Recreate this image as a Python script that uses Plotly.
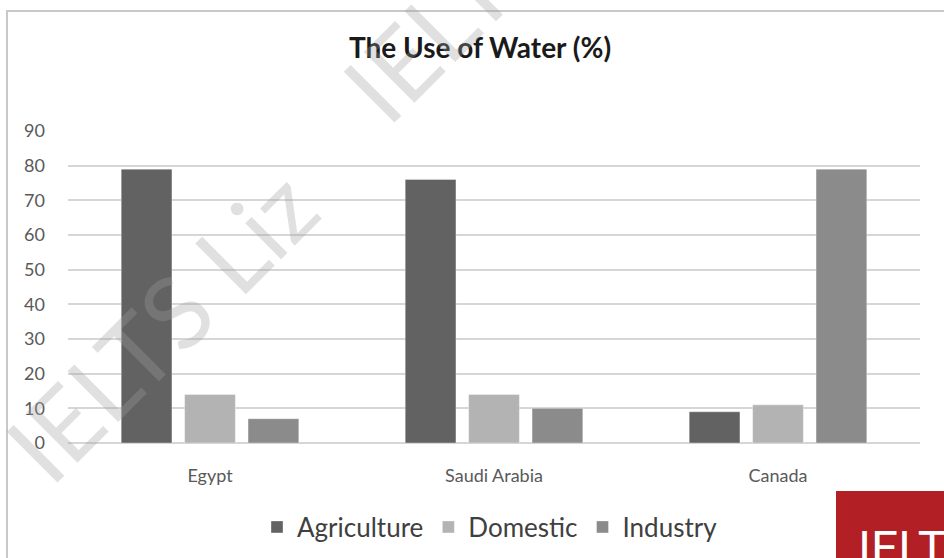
import plotly.graph_objects as go

countries = ["Egypt", "Saudi Arabia", "Canada"]
agriculture = [79, 76, 9]
domestic = [14, 14, 11]
industry = [7, 10, 79]
series_names = ["Agriculture", "Domestic", "Industry"]
series_colors = ["#626262", "#b3b3b3", "#8b8b8b"]
y_ticks = [0, 10, 20, 30, 40, 50, 60, 70, 80, 90]

FONT = "Lato, 'Open Sans', sans-serif"

fig = go.Figure()
for name, vals, col in zip(series_names, [agriculture, domestic, industry], series_colors):
    fig.add_trace(go.Bar(
        name=name, x=countries, y=vals,
        marker=dict(color=col, line=dict(color="rgba(255,255,255,0.35)", width=1)),
    ))

# plot area geometry helpers (paper coords)
L, R, T, B = 68, 24, 131, 115
W, H = 944, 558
pw, ph = W - L - R, H - T - B
def px(x):
    return (x - L) / pw
def py(y):
    return (H - B - y) / ph

shapes = [
    # chart frame
    dict(type="rect", xref="paper", yref="paper",
         x0=px(7), x1=px(960), y0=py(11), y1=py(600),
         line=dict(color="#c8c8c8", width=2), fillcolor="rgba(0,0,0,0)", layer="below"),
    # red logo block
    dict(type="rect", xref="paper", yref="paper",
         x0=px(836), x1=px(960), y0=py(491), y1=py(600),
         line=dict(width=0), fillcolor="#b21f25", layer="above"),
]

wm_font = dict(family="Lato, sans-serif", size=100, color="rgba(160,160,160,0.32)")
annotations = [
    dict(text="IELTS Liz", xref="paper", yref="paper", x=px(160), y=py(325),
         xanchor="center", yanchor="middle", showarrow=False, textangle=-45, font=wm_font),
    dict(text="IELTS Liz", xref="paper", yref="paper", x=px(497), y=py(-35),
         xanchor="center", yanchor="middle", showarrow=False, textangle=-45, font=wm_font),
    dict(text="IELTS", xref="paper", yref="paper", x=px(856), y=py(518),
         xanchor="left", yanchor="top", showarrow=False,
         font=dict(family="'Liberation Sans Narrow', 'Roboto', sans-serif", size=48, color="white")),
]

fig.update_layout(
    width=W, height=H,
    margin=dict(l=L, r=R, t=T, b=B, autoexpand=False),
    paper_bgcolor="white", plot_bgcolor="white",
    font=dict(family=FONT, color="#595959"),
    title=dict(text="<b>The Use of Water (%)</b>", x=px(480), xref="paper", y=1 - 48 / H, yref="container",
               yanchor="middle", xanchor="center",
               font=dict(family=FONT, size=28, color="#1a1a1a")),
    barmode="group", bargap=0.33, bargroupgap=0.2,
    xaxis=dict(showgrid=False, showline=False, ticks="", tickfont=dict(size=18, color="#595959"),
               ticklabelstandoff=20),
    yaxis=dict(range=[0, 90], tickvals=y_ticks, showgrid=True, gridcolor="#d6d6d6", gridwidth=2,
               zeroline=True, zerolinecolor="#d6d6d6", zerolinewidth=2, showline=False,
               tickfont=dict(size=18, color="#595959"), ticklabelstandoff=22),
    legend=dict(orientation="h", x=px(490), xanchor="center", y=py(527), yanchor="middle",
                font=dict(size=26, color="#404040"), itemwidth=30,
                bgcolor="rgba(0,0,0,0)"),
    showlegend=True,
    shapes=shapes,
    annotations=annotations,
)

fig.write_html("out.html", config={"displayModeBar": False},
               post_script="document.body.style.margin='0px';document.body.style.overflow='hidden';")
